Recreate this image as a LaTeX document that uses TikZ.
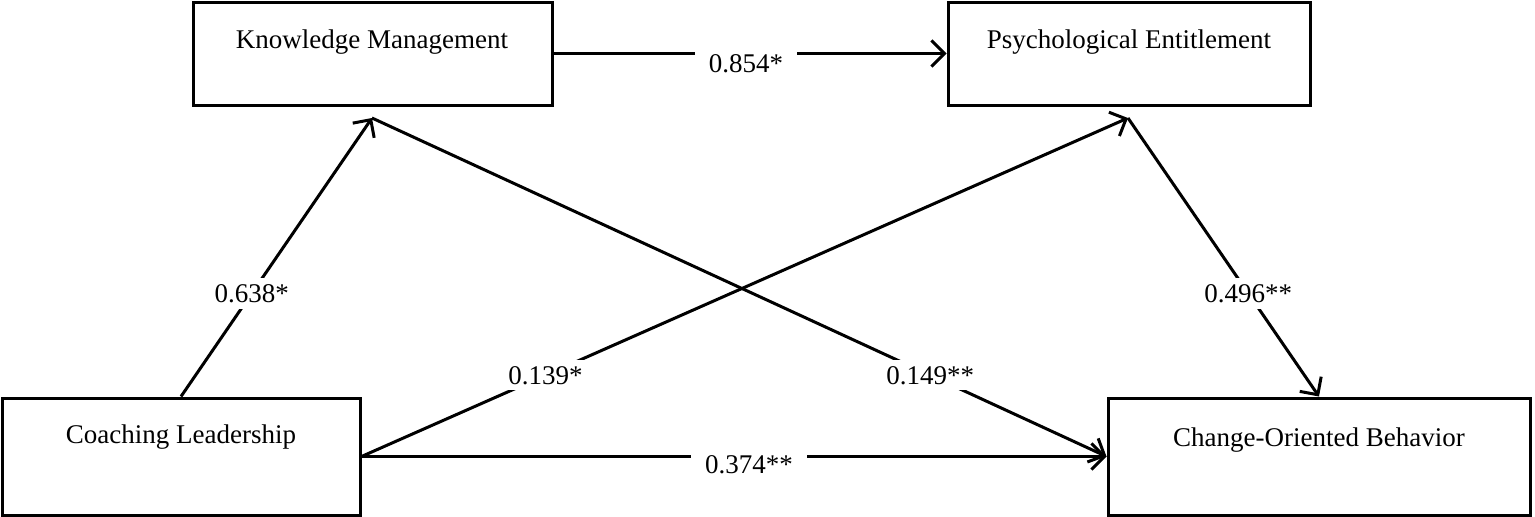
\documentclass[tikz,border=0pt]{standalone}
\usepackage{fontspec}
\setmainfont{Liberation Serif}
\usetikzlibrary{arrows.meta}
\begin{document}
\begin{tikzpicture}[x=1pt,y=-1pt,
  box/.style={draw,line width=3pt,inner sep=0pt},
  lbl/.style={font=\fontsize{27}{30}\selectfont},
  arr/.style={line width=3pt,-{Straight Barb[length=13pt,width=26pt,line width=3pt]}},
  wl/.style={fill=white,inner xsep=14pt,inner ysep=6pt,font=\fontsize{27}{30}\selectfont}]
\useasboundingbox (0,0) rectangle (1535,517);
\node[box,minimum width=359pt,minimum height=103pt] (km) at (372.5,53.5) {};
\node[box,minimum width=362pt,minimum height=103pt] (pe) at (1129,53.5) {};
\node[box,minimum width=358pt,minimum height=117pt] (cl) at (181,456.5) {};
\node[box,minimum width=422pt,minimum height=117pt] (cob) at (1319,456.5) {};
\node[lbl] (kmt) at (372,42) {Knowledge Management};
\node[lbl] (pet) at (1129,42) {Psychological Entitlement};
\node[lbl] (clt) at (181,437) {Coaching Leadership};
\node[lbl] (cobt) at (1319,440) {Change-Oriented Behavior};
\coordinate (kmb) at (372,118);
\coordinate (peb) at (1128,118);
\draw[arr] (km.east) -- (pe.west) node[wl,pos=0.49,yshift=-10pt] (l1) {0.854*};
\draw[arr] (cl.north) -- (kmb) node[wl,pos=0.37] (l2) {0.638*};
\draw[arr] (kmb) -- (cob.west) node[wl,pos=0.76] (l3) {0.149**};
\draw[arr] (cl.east) -- (peb) node[wl,pos=0.24] (l4) {0.139*};
\draw[arr] (peb) -- (cob.north) node[wl,pos=0.63] (l5) {0.496**};
\draw[arr] (cl.east) -- (cob.west) node[wl,pos=0.52,yshift=-8pt] (l6) {0.374**};
\end{tikzpicture}
\end{document}
